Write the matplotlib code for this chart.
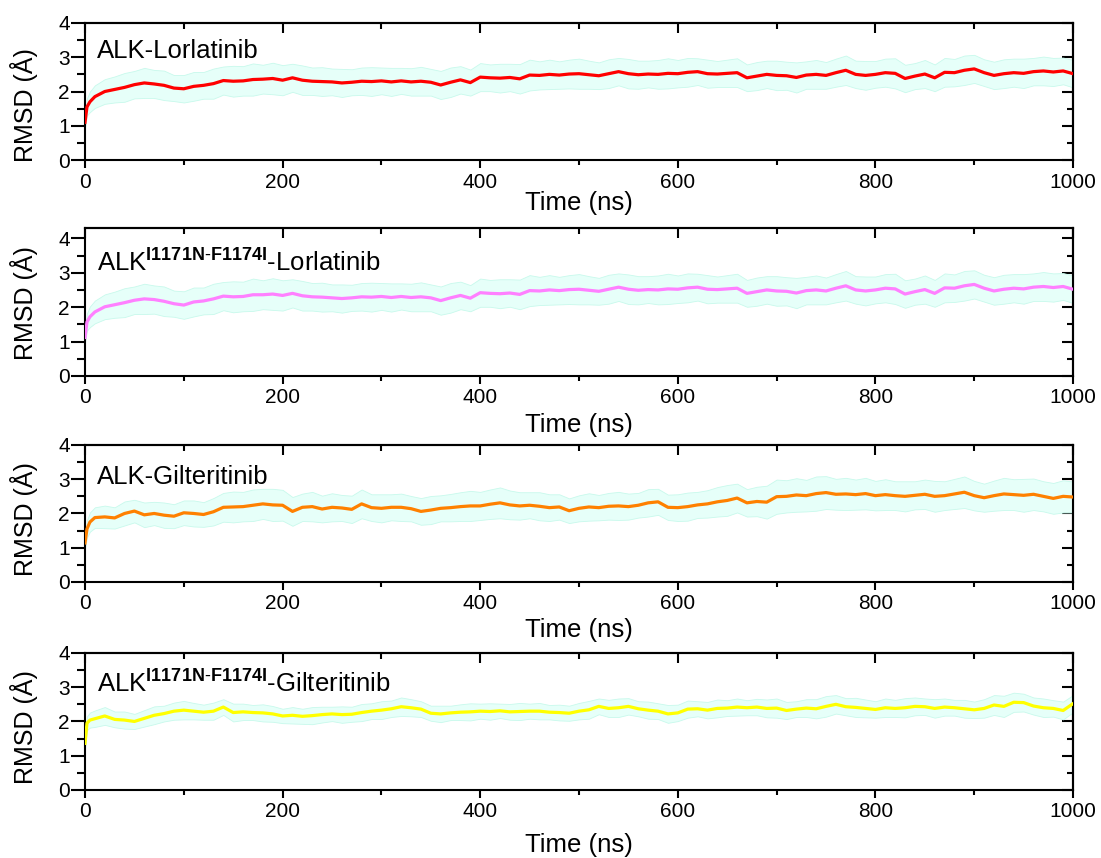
import numpy as np
import matplotlib
matplotlib.use("Agg")
import matplotlib.pyplot as plt
from matplotlib.ticker import MultipleLocator

plt.rcParams['font.family'] = ['Liberation Sans', 'DejaVu Sans']
plt.rcParams['mathtext.fontset'] = 'custom'
plt.rcParams['mathtext.rm'] = 'Liberation Sans'
plt.rcParams['mathtext.bf'] = 'Liberation Sans:bold'

# --- data (ns, Angstrom) ---
time_ns = [0, 2, 5] + list(range(10, 1001, 10))

rmsd_wt_lor = [1.10, 1.55, 1.70,
    1.85, 2.00, 2.06, 2.12, 2.20, 2.25, 2.22, 2.18, 2.10, 2.08,
    2.15, 2.18, 2.23, 2.32, 2.30, 2.31, 2.35, 2.36, 2.38, 2.33,
    2.40, 2.33, 2.30, 2.29, 2.28, 2.25, 2.27, 2.30, 2.29, 2.31,
    2.28, 2.31, 2.28, 2.30, 2.27, 2.19, 2.27, 2.34, 2.26, 2.42,
    2.40, 2.39, 2.41, 2.37, 2.48, 2.47, 2.50, 2.48, 2.51, 2.52,
    2.49, 2.46, 2.52, 2.58, 2.52, 2.49, 2.51, 2.50, 2.53, 2.52,
    2.56, 2.58, 2.52, 2.51, 2.53, 2.55, 2.40, 2.45, 2.50, 2.47,
    2.46, 2.41, 2.48, 2.50, 2.47, 2.55, 2.62, 2.50, 2.47, 2.50,
    2.55, 2.53, 2.38, 2.45, 2.51, 2.40, 2.56, 2.55, 2.62, 2.66,
    2.55, 2.47, 2.52, 2.55, 2.53, 2.58, 2.60, 2.57, 2.60, 2.52]
sd_wt_lor = [0.15, 0.25, 0.30,
    0.33, 0.36, 0.38, 0.42, 0.40, 0.44, 0.41, 0.43, 0.38, 0.40,
    0.42, 0.39, 0.44, 0.41, 0.45, 0.43, 0.47, 0.42, 0.46, 0.44,
    0.41, 0.43, 0.40, 0.42, 0.39, 0.41, 0.38, 0.40, 0.42, 0.39,
    0.41, 0.38, 0.40, 0.42, 0.39, 0.41, 0.43, 0.40, 0.38, 0.41,
    0.39, 0.42, 0.40, 0.43, 0.45, 0.41, 0.43, 0.40, 0.42, 0.44,
    0.41, 0.39, 0.42, 0.40, 0.43, 0.41, 0.39, 0.42, 0.44, 0.40,
    0.42, 0.39, 0.41, 0.38, 0.40, 0.42, 0.39, 0.41, 0.40, 0.43,
    0.41, 0.44, 0.40, 0.42, 0.39, 0.41, 0.43, 0.40, 0.42, 0.39,
    0.41, 0.44, 0.40, 0.38, 0.41, 0.39, 0.42, 0.40, 0.43, 0.41,
    0.39, 0.40, 0.42, 0.41, 0.43, 0.40, 0.42, 0.41, 0.39, 0.40]

rmsd_mut_lor = [1.12, 1.57, 1.72,
    1.86, 2.01, 2.07, 2.13, 2.20, 2.24, 2.22, 2.17, 2.10, 2.06,
    2.15, 2.18, 2.24, 2.32, 2.30, 2.31, 2.36, 2.36, 2.38, 2.34,
    2.40, 2.33, 2.30, 2.29, 2.27, 2.25, 2.27, 2.30, 2.29, 2.31,
    2.28, 2.31, 2.28, 2.30, 2.27, 2.19, 2.27, 2.34, 2.26, 2.42,
    2.40, 2.39, 2.41, 2.37, 2.48, 2.47, 2.50, 2.48, 2.51, 2.52,
    2.49, 2.46, 2.52, 2.58, 2.52, 2.49, 2.51, 2.50, 2.53, 2.52,
    2.56, 2.58, 2.52, 2.51, 2.53, 2.55, 2.40, 2.45, 2.50, 2.47,
    2.46, 2.41, 2.48, 2.50, 2.47, 2.55, 2.62, 2.50, 2.47, 2.50,
    2.55, 2.53, 2.38, 2.45, 2.51, 2.40, 2.56, 2.55, 2.62, 2.66,
    2.55, 2.47, 2.52, 2.55, 2.53, 2.58, 2.60, 2.57, 2.60, 2.52]
sd_mut_lor = sd_wt_lor

rmsd_wt_gil = [1.14, 1.55, 1.75,
    1.88, 1.90, 1.87, 2.00, 2.07, 1.96, 2.00, 1.95, 1.92, 2.02,
    2.00, 1.97, 2.05, 2.18, 2.19, 2.20, 2.24, 2.28, 2.25, 2.24,
    2.06, 2.18, 2.20, 2.13, 2.18, 2.16, 2.12, 2.28, 2.17, 2.15,
    2.18, 2.18, 2.14, 2.06, 2.10, 2.15, 2.17, 2.20, 2.22, 2.22,
    2.27, 2.31, 2.25, 2.22, 2.24, 2.21, 2.17, 2.19, 2.08, 2.15,
    2.19, 2.17, 2.21, 2.22, 2.20, 2.24, 2.31, 2.34, 2.18, 2.17,
    2.20, 2.25, 2.28, 2.34, 2.38, 2.45, 2.31, 2.35, 2.33, 2.49,
    2.50, 2.54, 2.52, 2.58, 2.61, 2.56, 2.57, 2.55, 2.58, 2.52,
    2.55, 2.52, 2.50, 2.53, 2.56, 2.50, 2.52, 2.57, 2.62, 2.52,
    2.46, 2.52, 2.57, 2.55, 2.53, 2.56, 2.50, 2.44, 2.50, 2.48]
sd_wt_gil = [0.15, 0.25, 0.28,
    0.30, 0.33, 0.31, 0.35, 0.33, 0.36, 0.34, 0.37, 0.35, 0.36,
    0.38, 0.36, 0.40, 0.42, 0.45, 0.43, 0.46, 0.44, 0.47, 0.45,
    0.42, 0.40, 0.43, 0.39, 0.41, 0.38, 0.40, 0.42, 0.39, 0.41,
    0.38, 0.40, 0.37, 0.39, 0.41, 0.38, 0.40, 0.42, 0.44, 0.41,
    0.43, 0.45, 0.42, 0.40, 0.38, 0.41, 0.39, 0.37, 0.36, 0.38,
    0.40, 0.37, 0.39, 0.41, 0.38, 0.36, 0.40, 0.38, 0.37, 0.39,
    0.41, 0.38, 0.40, 0.43, 0.45, 0.42, 0.40, 0.43, 0.48, 0.50,
    0.47, 0.49, 0.46, 0.50, 0.48, 0.45, 0.47, 0.44, 0.46, 0.43,
    0.45, 0.42, 0.44, 0.41, 0.43, 0.45, 0.42, 0.44, 0.46, 0.43,
    0.41, 0.44, 0.47, 0.45, 0.48, 0.46, 0.44, 0.45, 0.47, 0.45]

rmsd_mut_gil = [1.36, 1.95, 2.04,
    2.08, 2.16, 2.06, 2.04, 2.00, 2.09, 2.18, 2.23, 2.30, 2.33,
    2.30, 2.27, 2.30, 2.42, 2.26, 2.28, 2.26, 2.25, 2.22, 2.16,
    2.18, 2.15, 2.17, 2.20, 2.22, 2.20, 2.21, 2.26, 2.30, 2.33,
    2.37, 2.43, 2.40, 2.36, 2.24, 2.22, 2.25, 2.27, 2.28, 2.30,
    2.29, 2.31, 2.28, 2.29, 2.30, 2.30, 2.27, 2.26, 2.24, 2.30,
    2.34, 2.44, 2.38, 2.40, 2.44, 2.37, 2.33, 2.30, 2.22, 2.25,
    2.36, 2.37, 2.33, 2.38, 2.39, 2.42, 2.40, 2.42, 2.38, 2.39,
    2.32, 2.36, 2.39, 2.37, 2.44, 2.50, 2.43, 2.41, 2.38, 2.35,
    2.40, 2.38, 2.40, 2.44, 2.43, 2.38, 2.42, 2.40, 2.37, 2.34,
    2.38, 2.48, 2.44, 2.56, 2.55, 2.45, 2.40, 2.38, 2.32, 2.52]
sd_mut_gil = [0.12, 0.20, 0.22,
    0.24, 0.26, 0.23, 0.25, 0.22, 0.24, 0.26, 0.23, 0.25, 0.27,
    0.24, 0.22, 0.25, 0.23, 0.26, 0.24, 0.22, 0.25, 0.23, 0.21,
    0.24, 0.22, 0.25, 0.23, 0.21, 0.24, 0.22, 0.25, 0.23, 0.26,
    0.24, 0.27, 0.25, 0.23, 0.22, 0.24, 0.21, 0.23, 0.25, 0.22,
    0.24, 0.21, 0.23, 0.25, 0.22, 0.24, 0.21, 0.23, 0.22, 0.24,
    0.26, 0.23, 0.25, 0.27, 0.24, 0.22, 0.25, 0.23, 0.26, 0.24,
    0.25, 0.22, 0.24, 0.26, 0.23, 0.25, 0.22, 0.24, 0.26, 0.28,
    0.25, 0.23, 0.26, 0.28, 0.30, 0.27, 0.25, 0.28, 0.26, 0.24,
    0.27, 0.25, 0.28, 0.26, 0.24, 0.27, 0.25, 0.23, 0.26, 0.24,
    0.27, 0.29, 0.31, 0.28, 0.26, 0.25, 0.27, 0.24, 0.26, 0.25]

labels = ['ALK-Lorlatinib',
          r'ALK$^{\mathbf{I1171N\text{-}F1174I}}$-Lorlatinib',
          'ALK-Gilteritinib',
          r'ALK$^{\mathbf{I1171N\text{-}F1174I}}$-Gilteritinib']
series = [rmsd_wt_lor, rmsd_mut_lor, rmsd_wt_gil, rmsd_mut_gil]
spreads = [sd_wt_lor, sd_mut_lor, sd_wt_gil, sd_mut_gil]
colors = ['#ff0000', '#ff80ff', '#ff8000', '#ffff00']

# panel boxes in figure fractions: left, bottom, width, height
boxes = [(0.0772, 0.8135, 0.8974, 0.1597),
         (0.0772, 0.5618, 0.8974, 0.1725),
         (0.0772, 0.3217, 0.8974, 0.1597),
         (0.0772, 0.0793, 0.8974, 0.1597)]
ytops = [4.0, 4.3, 4.0, 4.0]
ylab_y = [0.40, 0.49, 0.456, 0.46]
xlab_y = [-0.314, -0.33, -0.35, -0.40]
text_y = [0.796, 0.77, 0.766, 0.78]

fig = plt.figure(figsize=(11.01, 8.58), dpi=100)
t = np.array(time_ns)

for i in range(4):
    ax = fig.add_axes(boxes[i])
    y = np.array(series[i])
    s = np.array(spreads[i])
    ax.fill_between(t, y - s, y + s, facecolor='#e6fff9', edgecolor='#c8f9ec',
                    linewidth=0.6, zorder=1)
    ax.plot(t, y, color=colors[i], linewidth=2.3, zorder=3)

    ax.set_xlim(0, 1000)
    ax.set_ylim(0, ytops[i])
    ax.xaxis.set_major_locator(MultipleLocator(200))
    ax.xaxis.set_minor_locator(MultipleLocator(100))
    ax.yaxis.set_major_locator(MultipleLocator(1))
    ax.yaxis.set_minor_locator(MultipleLocator(0.5))
    ax.tick_params(axis='x', which='major', direction='out', length=6, width=1.5,
                   labelsize=15, pad=3)
    ax.tick_params(axis='x', which='minor', direction='out', length=3.5, width=1.5)
    ax.tick_params(axis='y', which='major', direction='out', length=10, width=1.5,
                   labelsize=15, pad=1)
    ax.tick_params(axis='y', which='minor', direction='out', length=6, width=1.5)

    # mirrored ticks pointing inward on top and right
    top = ax.secondary_xaxis('top')
    top.xaxis.set_major_locator(MultipleLocator(200))
    top.xaxis.set_minor_locator(MultipleLocator(100))
    top.tick_params(which='major', direction='in', length=7, width=1.5, labeltop=False)
    top.tick_params(which='minor', direction='in', length=4, width=1.5)
    right = ax.secondary_yaxis('right')
    right.yaxis.set_major_locator(MultipleLocator(1))
    right.yaxis.set_minor_locator(MultipleLocator(0.5))
    right.tick_params(which='major', direction='in', length=8, width=1.5, labelright=False)
    right.tick_params(which='minor', direction='in', length=4, width=1.5)
    for sp in list(ax.spines.values()) + [top.spines['top'], right.spines['right']]:
        sp.set_linewidth(1.5)

    ax.set_xlabel('Time (ns)', fontsize=18.5)
    ax.xaxis.set_label_coords(0.5, xlab_y[i])
    ax.xaxis.label.set_va('center')
    ax.set_ylabel('RMSD (Å)', fontsize=18)
    ax.yaxis.set_label_coords(-0.062, ylab_y[i])
    ax.yaxis.label.set_va('center')

    ax.text(0.012, text_y[i], labels[i], transform=ax.transAxes, fontsize=18.5,
            va='center', ha='left')

fig.savefig('out.png', dpi=100)
